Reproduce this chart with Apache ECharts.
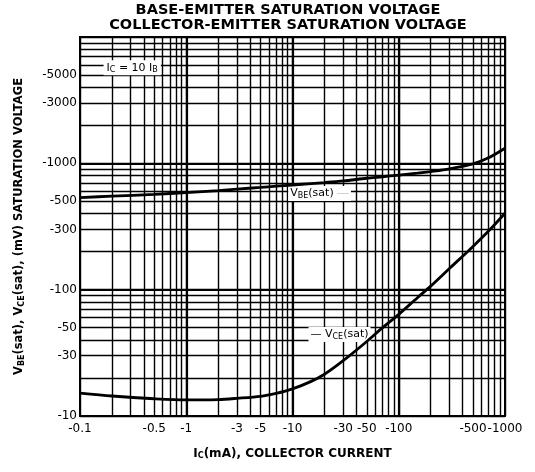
<!DOCTYPE html>
<html><head><meta charset="utf-8">
<script src="https://cdn.jsdelivr.net/npm/echarts@6/dist/echarts.min.js"></script>
<style>html,body{margin:0;padding:0;background:#fff}#c{width:535px;height:472px}</style>
</head><body><div id="c"></div>
<script>
// Collector current (mA, magnitude) and saturation voltages (mV, magnitude)
const collectorCurrent = [0.1, 0.2, 0.5, 1, 2, 3, 5, 7, 10, 15, 20, 30, 50, 70, 100, 150, 200, 300, 500, 700, 1000];
const vbeSat = [536, 550, 568, 587, 609, 625, 645, 659, 674, 692, 704, 725, 762, 783, 807, 835, 860, 904, 991, 1106, 1317];
const vceSat = [15.2, 14.4, 13.7, 13.4, 13.5, 13.8, 14.3, 15.1, 16.4, 18.8, 21.4, 27.4, 38.9, 49.8, 63.8, 86.4, 106.7, 147, 220, 291, 403];
const xTickLabels = [0.1, 0.5, 1, 3, 5, 10, 30, 50, 100, 500, 1000];
const yTickLabels = [10, 30, 50, 100, 300, 500, 1000, 3000, 5000];
const xDecades = [0.1, 1, 10, 100, 1000];
const yDecades = [10, 100, 1000, 10000];

function gridValues(decades) {
  const out = [];
  for (let i = 0; i < decades.length - 1; i++) {
    for (let k = 1; k < 10; k++) out.push(+(decades[i] * k).toPrecision(3));
  }
  out.push(decades[decades.length - 1]);
  return out;
}
const fmt = v => '-' + (+(+v).toPrecision(3));
const FONT = 'DejaVu Sans';

const chart = echarts.init(document.getElementById('c'), null, {renderer: 'canvas'});
const subRich = {
  v: {fontSize: 11, fontFamily: FONT, color: '#000'},
  s: {fontSize: 8, fontFamily: FONT, color: '#000', padding: [5, 0, 0, 0]}
};
const nameRich = {s: {fontFamily: FONT, fontWeight: 'bold', fontSize: 8, color: '#000', padding: [5, 0, 0, 0]}};
chart.setOption({
  animation: false,
  backgroundColor: '#fff',
  title: {
    text: 'BASE-EMITTER SATURATION VOLTAGE\nCOLLECTOR-EMITTER SATURATION VOLTAGE',
    left: 288, top: 3, textAlign: 'center', padding: 0,
    textStyle: {fontFamily: FONT, fontWeight: 'bold', fontSize: 14.5, lineHeight: 15, color: '#000'}
  },
  grid: {left: 80, right: 30, top: 37, bottom: 56, show: true, borderColor: '#000', borderWidth: 2, containLabel: false},
  xAxis: {
    type: 'log', logBase: 10, min: 0.1, max: 1000,
    name: 'I{s|C}(mA), COLLECTOR CURRENT', nameLocation: 'middle', nameGap: 31,
    nameTextStyle: {fontFamily: FONT, fontWeight: 'bold', fontSize: 12, color: '#000', rich: nameRich},
    axisLine: {show: true, lineStyle: {color: '#000', width: 2}},
    axisTick: {show: false, customValues: gridValues(xDecades)},
    axisLabel: {customValues: xTickLabels, formatter: fmt, fontFamily: FONT, fontSize: 12, color: '#000', margin: 7},
    splitLine: {show: true, lineStyle: {color: '#000', width: 1.4}},
    minorSplitLine: {show: false}
  },
  yAxis: {
    type: 'log', logBase: 10, min: 10, max: 10000,
    name: 'V{s|BE}(sat), V{s|CE}(sat), (mV) SATURATION VOLTAGE', nameLocation: 'middle', nameGap: 54,
    nameTextStyle: {fontFamily: FONT, fontWeight: 'bold', fontSize: 11.5, color: '#000', rich: nameRich},
    axisLine: {show: true, lineStyle: {color: '#000', width: 2}},
    axisTick: {show: false, customValues: gridValues(yDecades)},
    axisLabel: {customValues: yTickLabels, formatter: fmt, fontFamily: FONT, fontSize: 12, color: '#000', margin: 3},
    splitLine: {show: true, lineStyle: {color: '#000', width: 1.4}}
  },
  series: [
    {
      name: 'VBE(sat)', type: 'line', smooth: 0.3, symbol: 'none',
      data: collectorCurrent.map((x, i) => [x, vbeSat[i]]),
      lineStyle: {color: '#000', width: 2.8}, z: 5,
      markLine: {
        silent: true, symbol: 'none', label: {show: false},
        lineStyle: {color: '#000', width: 2.2, type: 'solid'},
        data: [...xDecades.slice(1, -1).map(v => ({xAxis: v})), ...yDecades.slice(1, -1).map(v => ({yAxis: v}))]
      },
      markPoint: {
        silent: true, symbol: 'rect', symbolSize: 1, itemStyle: {color: 'rgba(0,0,0,0)'},
        data: [
          {coord: [18, 577], label: {show: true, position: 'inside', formatter: '{v|V}{s|BE}{v|(sat)} —', backgroundColor: '#fff', padding: [1, 2], rich: subRich}},
          {coord: [0.31, 5715], label: {show: true, position: 'inside', formatter: '{v|I}{s|C}{v| = 10 I}{s|B}', backgroundColor: '#fff', padding: [1, 3], rich: subRich}}
        ]
      }
    },
    {
      name: 'VCE(sat)', type: 'line', smooth: 0.3, symbol: 'none',
      data: collectorCurrent.map((x, i) => [x, vceSat[i]]),
      lineStyle: {color: '#000', width: 2.8}, z: 5,
      markPoint: {
        silent: true, symbol: 'rect', symbolSize: 1, itemStyle: {color: 'rgba(0,0,0,0)'},
        data: [
          {coord: [27.7, 44.2], label: {show: true, position: 'inside', formatter: '{v|— V}{s|CE}{v|(sat)}', backgroundColor: '#fff', padding: [1, 2], rich: subRich}}
        ]
      }
    }
  ]
});
</script></body></html>
